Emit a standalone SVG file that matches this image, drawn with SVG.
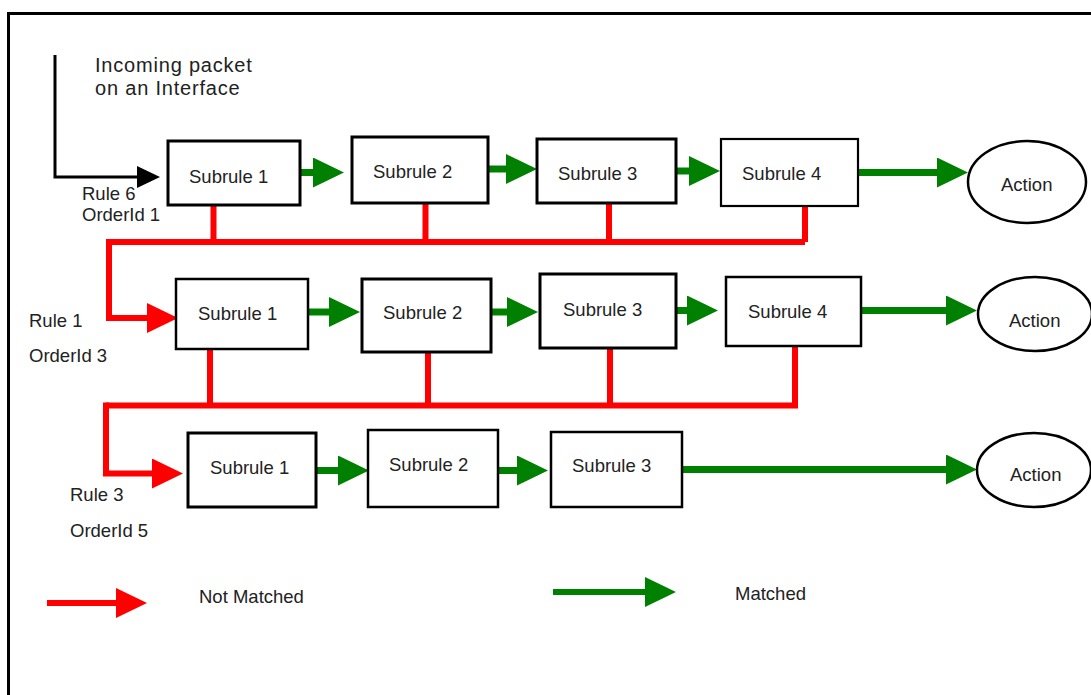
<svg xmlns="http://www.w3.org/2000/svg" width="1091" height="695" viewBox="0 0 1091 695">
<style>
.box{fill:#fff;stroke:#000;stroke-width:3}
.act{fill:#fff;stroke:#000;stroke-width:2.5}
.t{font-family:"Liberation Sans",Arial,sans-serif;font-size:18.5px;fill:#222}
.g{fill:none;stroke:#008000;stroke-width:7}
.r{fill:none;stroke:#ff0000;stroke-width:6}
.k{fill:none;stroke:#000;stroke-width:3}
</style>
<defs>
<marker id="gh" markerUnits="userSpaceOnUse" markerWidth="32" markerHeight="30" refX="0" refY="15" orient="auto"><path d="M0,0 L31,15 L0,30 Z" fill="#008000"/></marker>
<marker id="rh" markerUnits="userSpaceOnUse" markerWidth="32" markerHeight="30" refX="0" refY="15" orient="auto"><path d="M0,0 L31,15 L0,30 Z" fill="#ff0000"/></marker>
<marker id="kh" markerUnits="userSpaceOnUse" markerWidth="24" markerHeight="22" refX="0" refY="11" orient="auto"><path d="M0,0 L23,11 L0,22 Z" fill="#000"/></marker>
</defs>
<rect width="1091" height="695" fill="#fff"/>
<path d="M8.5,700 V13.5 H1095" fill="none" stroke="#000" stroke-width="3"/>

<g id="connectors">
<path class="k" d="M55,55 V177 H137" marker-end="url(#kh)"/>
<!-- row 1 green -->
<path class="g" d="M300,172.5 H313" marker-end="url(#gh)"/>
<path class="g" d="M488,169 H506" marker-end="url(#gh)"/>
<path class="g" d="M676,171 H689" marker-end="url(#gh)"/>
<path class="g" d="M858,172.5 H937" marker-end="url(#gh)"/>
<!-- row 2 green -->
<path class="g" d="M308,312 H329" marker-end="url(#gh)"/>
<path class="g" d="M491,312 H507" marker-end="url(#gh)"/>
<path class="g" d="M676,310.5 H687" marker-end="url(#gh)"/>
<path class="g" d="M861,310.5 H946" marker-end="url(#gh)"/>
<!-- row 3 green -->
<path class="g" d="M316,470.5 H338" marker-end="url(#gh)"/>
<path class="g" d="M498,470.5 H517" marker-end="url(#gh)"/>
<path class="g" d="M682,469.5 H946" marker-end="url(#gh)"/>
<!-- row 1 red -->
<path class="r" d="M213.5,205 V242 M425.5,203 V242 M609,203 V242 M805,206 V242 M805,242 H109"/>
<path class="r" d="M109,239 V318 H147" marker-end="url(#rh)"/>
<!-- row 2 red -->
<path class="r" d="M210,349 V405.5 M428,352 V405.5 M610,348 V405.5 M795,346 V405.5 M798,405.5 H106"/>
<path class="r" d="M106,402.5 V473.5 H152" marker-end="url(#rh)"/>
<!-- legend -->
<path class="r" d="M47,603 H116" marker-end="url(#rh)"/>
<path class="g" d="M553,592 H645" style="stroke-width:6" marker-end="url(#gh)"/>
</g>

<g id="r1s1"><rect class="box" x="168" y="141" width="132" height="64"/><text class="t" x="189" y="183">Subrule 1</text></g>
<g id="r1s2"><rect class="box" x="352" y="137" width="136" height="66"/><text class="t" x="373" y="178">Subrule 2</text></g>
<g id="r1s3"><rect class="box" x="537" y="139" width="139" height="64"/><text class="t" x="558" y="180">Subrule 3</text></g>
<g id="r1s4"><rect class="box" x="721" y="139" width="137" height="67" style="stroke-width:2.2"/><text class="t" x="742" y="180">Subrule 4</text></g>
<g id="r1act"><ellipse class="act" cx="1027" cy="182" rx="59" ry="41"/><text class="t" x="1001" y="191">Action</text></g>

<g id="r2s1"><rect class="box" x="176" y="279" width="132" height="70" style="stroke-width:2.5"/><text class="t" x="198" y="320">Subrule 1</text></g>
<g id="r2s2"><rect class="box" x="362" y="279" width="129" height="73"/><text class="t" x="383" y="319">Subrule 2</text></g>
<g id="r2s3"><rect class="box" x="540" y="274" width="136" height="74"/><text class="t" x="563" y="316">Subrule 3</text></g>
<g id="r2s4"><rect class="box" x="726" y="277" width="135" height="69" style="stroke-width:2.5"/><text class="t" x="748" y="318">Subrule 4</text></g>
<g id="r2act"><ellipse class="act" cx="1035" cy="314" rx="57" ry="37"/><text class="t" x="1009" y="327">Action</text></g>

<g id="r3s1"><rect class="box" x="188" y="433" width="128" height="74"/><text class="t" x="210" y="474">Subrule 1</text></g>
<g id="r3s2"><rect class="box" x="368" y="430" width="130" height="77" style="stroke-width:2.5"/><text class="t" x="389" y="471">Subrule 2</text></g>
<g id="r3s3"><rect class="box" x="551" y="432" width="131" height="75" style="stroke-width:2.5"/><text class="t" x="572" y="472">Subrule 3</text></g>
<g id="r3act"><ellipse class="act" cx="1034" cy="470" rx="57" ry="37"/><text class="t" x="1010" y="481">Action</text></g>

<g id="labels">
<text class="t" x="95" y="72" style="font-size:20px;letter-spacing:0.8px">Incoming packet</text>
<text class="t" x="95" y="95" style="font-size:20px;letter-spacing:0.8px">on an Interface</text>
<text class="t" x="82" y="200">Rule 6</text>
<text class="t" x="82" y="221">OrderId 1</text>
<text class="t" x="29" y="327">Rule 1</text>
<text class="t" x="29" y="362">OrderId 3</text>
<text class="t" x="70" y="501">Rule 3</text>
<text class="t" x="70" y="537">OrderId 5</text>
<text class="t" x="199" y="603">Not Matched</text>
<text class="t" x="735" y="600">Matched</text>
</g>
</svg>
